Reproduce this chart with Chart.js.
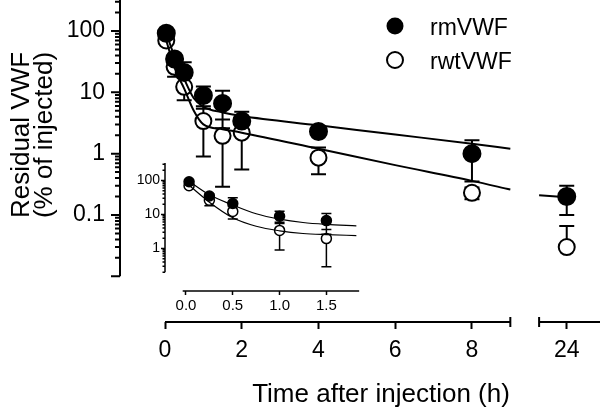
<!DOCTYPE html>
<html>
<head>
<meta charset="utf-8">
<script src="https://cdn.jsdelivr.net/npm/chart.js@4.4.1/dist/chart.umd.min.js"></script>
<style>
  html, body { margin: 0; padding: 0; background: #fff; }
  #wrap { position: relative; width: 600px; height: 409px; }
  #wrap canvas { position: absolute; left: 0; top: 0; }
</style>
</head>
<body>
<div id="wrap">
  <canvas id="mainChart" width="600" height="409"></canvas>
  <canvas id="insetChart" width="600" height="409"></canvas>
</div>
<script>
// sampling times (h) and residual VWF (% of injected), mean and SD
const times = [0.033, 0.25, 0.5, 1, 1.5, 2, 4, 8, 24];
const rmMean = [92, 35, 21, 8.9, 6.6, 3.4, 2.3, 1.0, 0.2];
const rmSD = [8, 5, 10, 3.5, 4.0, 1.4, 0.3, 0.65, 0.1];
const rwtMean = [70, 26, 12.3, 3.4, 1.95, 2.2, 0.86, 0.23, 0.03];
const rwtSD = [7, 8, 4.9, 2.5, 1.66, 1.65, 0.4, 0.05, 0.036];

// fitted curves
const fitTimes = [0.033, 0.25, 0.5, 0.75, 1, 1.5, 2, 4, 6, 8, 9];
const rmFit = [92, 38, 16.5, 8, 5.8, 4.7, 4.1, 2.9, 2.05, 1.45, 1.2];
const rwtFit = [70, 25, 11.5, 5.0, 3.0, 2.5, 2.2, 1.2, 0.65, 0.36, 0.26];
const rmFit24Times = [23.28, 24];
const rmFit24 = [0.21, 0.195];

// inset (first two hours)
const insetFitTimes = [0.033, 0.25, 0.5, 0.75, 1, 1.25, 1.5, 1.82];
const rmInsetFit = [95, 38, 19, 10.5, 7.3, 5.8, 5.1, 4.6];
const rwtInsetFit = [72, 23, 8, 4.5, 3.3, 2.75, 2.55, 2.4];

const xTicks = [0, 2, 4, 6, 8, 24];
const yTicks = [0.1, 1, 10, 100];
const insetXTicks = [0, 0.5, 1, 1.5];
const insetYTicks = [1, 10, 100];

// broken x axis: 0-9 h, then a short piece around 24 h
const seg1 = [0, 9];
const seg2 = [23.28, 30];
const BREAK_SHIFT = 13.53;
const xPos = t => (t > seg1[1] ? t - BREAK_SHIFT : t);

const FONT = '"Liberation Sans", Arial, sans-serif';
const pts = (xs, ys) => xs.map((t, i) => ({ x: xPos(t), y: ys[i] }));

// fixed box size, no extra label padding
const fitBox = (w, h) => s => {
  if (w != null) s.width = w;
  if (h != null) s.height = h;
  s.paddingTop = s.paddingBottom = s.paddingLeft = s.paddingRight = 0;
};

function drawLogAxis(ctx, y, x, lo, hi, majorLen, minorLen) {
  ctx.beginPath();
  ctx.moveTo(x, y.getPixelForValue(lo));
  ctx.lineTo(x, y.getPixelForValue(hi));
  for (let e = -3; e <= 3; e++) {
    for (let m = 1; m <= 9; m++) {
      const v = m * Math.pow(10, e);
      if (v < lo * 0.999 || v > hi * 1.001) continue;
      const py = y.getPixelForValue(v);
      ctx.moveTo(x, py);
      ctx.lineTo(x - (m === 1 ? majorLen : minorLen), py);
    }
  }
  ctx.stroke();
}

function errorBars(capHalf, lw, maxT) {
  const series = [[rmMean, rmSD], [rwtMean, rwtSD]];
  return {
    id: 'errorBars',
    beforeDatasetsDraw(chart) {
      const { ctx, scales: { x, y } } = chart;
      ctx.save();
      ctx.strokeStyle = '#000';
      ctx.lineWidth = lw;
      ctx.beginPath();
      series.forEach(([mean, sd]) => mean.forEach((m, i) => {
        if (times[i] > maxT) return;
        const px = x.getPixelForValue(xPos(times[i]));
        const hi = y.getPixelForValue(m + sd[i]);
        const hasLo = m - sd[i] > 0;
        const lo = y.getPixelForValue(hasLo ? m - sd[i] : m);
        ctx.moveTo(px, hi); ctx.lineTo(px, lo);
        ctx.moveTo(px - capHalf, hi); ctx.lineTo(px + capHalf, hi);
        if (hasLo) { ctx.moveTo(px - capHalf, lo); ctx.lineTo(px + capHalf, lo); }
      }));
      ctx.stroke();
      ctx.restore();
    }
  };
}

const mainDecor = {
  id: 'mainDecor',
  afterDraw(chart) {
    const { ctx, chartArea: a, scales: { x, y } } = chart;
    ctx.save();
    ctx.strokeStyle = '#000';
    ctx.lineWidth = 2;
    drawLogAxis(ctx, y, a.left, 0.01, 320, 9, 5);

    // x axis in two pieces
    const by = a.bottom;
    const x0 = x.getPixelForValue(seg1[0]);
    const x9 = x.getPixelForValue(seg1[1]);
    const x23 = x.getPixelForValue(xPos(seg2[0]));
    ctx.beginPath();
    ctx.moveTo(x0, by); ctx.lineTo(x9, by);
    ctx.moveTo(x9, by - 5); ctx.lineTo(x9, by + 5);
    ctx.moveTo(x23, by - 5); ctx.lineTo(x23, by + 5);
    ctx.moveTo(x23, by); ctx.lineTo(a.right, by);
    ctx.stroke();

    // titles
    ctx.fillStyle = '#000';
    ctx.font = '26px ' + FONT;
    ctx.textAlign = 'center';
    ctx.textBaseline = 'alphabetic';
    ctx.fillText('Time after injection (h)', 381, 402);
    ctx.save();
    ctx.translate(29, 135); ctx.rotate(-Math.PI / 2);
    ctx.fillText('Residual VWF', 0, 0);
    ctx.restore();
    ctx.save();
    ctx.translate(52, 135); ctx.rotate(-Math.PI / 2);
    ctx.fillText('(% of injected)', 0, 0);
    ctx.restore();

    // legend
    ctx.font = '23px ' + FONT;
    ctx.textAlign = 'left';
    ctx.beginPath();
    ctx.arc(395, 26, 8.5, 0, Math.PI * 2);
    ctx.fill();
    ctx.fillText('rmVWF', 430, 35);
    ctx.beginPath();
    ctx.arc(395, 60, 8, 0, Math.PI * 2);
    ctx.fillStyle = '#fff'; ctx.fill();
    ctx.lineWidth = 2; ctx.stroke();
    ctx.fillStyle = '#000';
    ctx.fillText('rwtVWF', 430, 69);
    ctx.restore();
  }
};

const insetDecor = {
  id: 'insetDecor',
  afterDraw(chart) {
    const { ctx, chartArea: a, scales: { x, y } } = chart;
    ctx.save();
    ctx.strokeStyle = '#000';
    ctx.lineWidth = 1.5;
    drawLogAxis(ctx, y, a.left, 0.2, 327, 4, 2.5);
    ctx.beginPath();
    ctx.moveTo(x.getPixelForValue(-0.035), a.bottom);
    ctx.lineTo(x.getPixelForValue(1.85), a.bottom);
    ctx.stroke();
    ctx.restore();
  }
};

const tickFont = size => ({ family: FONT, size: size });

new Chart(document.getElementById('mainChart'), {
  type: 'scatter',
  data: {
    datasets: [
      { label: 'rmVWF', data: pts(times, rmMean), pointRadius: 8.5,
        pointBackgroundColor: '#000', pointBorderColor: '#000', pointBorderWidth: 2, order: 1 },
      { label: 'rwtVWF', data: pts(times, rwtMean), pointRadius: 8,
        pointBackgroundColor: '#fff', pointBorderColor: '#000', pointBorderWidth: 2, order: 2 },
      { label: 'rm fit', data: pts(fitTimes, rmFit), showLine: true, pointRadius: 0,
        borderColor: '#000', borderWidth: 2, cubicInterpolationMode: 'monotone', order: 0 },
      { label: 'rwt fit', data: pts(fitTimes, rwtFit), showLine: true, pointRadius: 0,
        borderColor: '#000', borderWidth: 2, cubicInterpolationMode: 'monotone', order: 0 },
      { label: 'rm fit 24h', data: pts(rmFit24Times, rmFit24), showLine: true, pointRadius: 0,
        borderColor: '#000', borderWidth: 2, order: 0 }
    ]
  },
  options: {
    responsive: false,
    animation: false,
    events: [],
    layout: { padding: 0, autoPadding: false },
    plugins: { legend: { display: false }, tooltip: { enabled: false } },
    scales: {
      x: {
        type: 'linear', min: -1.173, max: 11.337, bounds: 'data',
        afterBuildTicks: s => { s.ticks = xTicks.map(t => ({ value: xPos(t) })); },
        afterFit: fitBox(null, 87),
        grid: { drawOnChartArea: false, drawTicks: true, tickLength: 7, tickWidth: 2, tickColor: '#000' },
        border: { display: false },
        ticks: { padding: 8, color: '#000', font: tickFont(23), maxRotation: 0, autoSkip: false,
          callback: (v, i) => xTicks[i] }
      },
      y: {
        type: 'logarithmic', min: 0.0018, max: 320, bounds: 'data',
        afterBuildTicks: s => { s.ticks = yTicks.map(v => ({ value: v })); },
        afterFit: fitBox(120, null),
        grid: { display: false, drawTicks: false },
        border: { display: false },
        ticks: { padding: 15, color: '#000', font: tickFont(23), autoSkip: false,
          callback: v => String(v) }
      }
    }
  },
  plugins: [errorBars(7.5, 2, 30), mainDecor]
});

const insetTimes = times.slice(0, 5);
new Chart(document.getElementById('insetChart'), {
  type: 'scatter',
  data: {
    datasets: [
      { label: 'rmVWF', data: pts(insetTimes, rmMean), pointRadius: 5,
        pointBackgroundColor: '#000', pointBorderColor: '#000', pointBorderWidth: 1.5, order: 1 },
      { label: 'rwtVWF', data: pts(insetTimes, rwtMean), pointRadius: 5,
        pointBackgroundColor: '#fff', pointBorderColor: '#000', pointBorderWidth: 1.5, order: 2 },
      { label: 'rm fit', data: pts(insetFitTimes, rmInsetFit), showLine: true, pointRadius: 0,
        borderColor: '#000', borderWidth: 1.2, cubicInterpolationMode: 'monotone', order: 0 },
      { label: 'rwt fit', data: pts(insetFitTimes, rwtInsetFit), showLine: true, pointRadius: 0,
        borderColor: '#000', borderWidth: 1.2, cubicInterpolationMode: 'monotone', order: 0 }
    ]
  },
  options: {
    responsive: false,
    animation: false,
    events: [],
    layout: { padding: { left: 125, top: 163, right: 240, bottom: 93 }, autoPadding: false },
    plugins: { legend: { display: false }, tooltip: { enabled: false } },
    scales: {
      x: {
        type: 'linear', min: -0.224, max: 1.859, bounds: 'data',
        afterBuildTicks: s => { s.ticks = insetXTicks.map(t => ({ value: t })); },
        afterFit: fitBox(null, 25),
        grid: { drawOnChartArea: false, drawTicks: true, tickLength: 4, tickWidth: 1.5, tickColor: '#000' },
        border: { display: false },
        ticks: { padding: 2, color: '#000', font: tickFont(15), maxRotation: 0, autoSkip: false,
          callback: (v, i) => insetXTicks[i].toFixed(1) }
      },
      y: {
        type: 'logarithmic', min: 0.056, max: 327, bounds: 'data',
        afterBuildTicks: s => { s.ticks = insetYTicks.map(v => ({ value: v })); },
        afterFit: fitBox(40, null),
        grid: { display: false, drawTicks: false },
        border: { display: false },
        ticks: { padding: 5, color: '#000', font: tickFont(14), autoSkip: false,
          callback: v => String(v) }
      }
    }
  },
  plugins: [errorBars(5, 1.5, 1.8), insetDecor]
});
</script>
</body>
</html>
